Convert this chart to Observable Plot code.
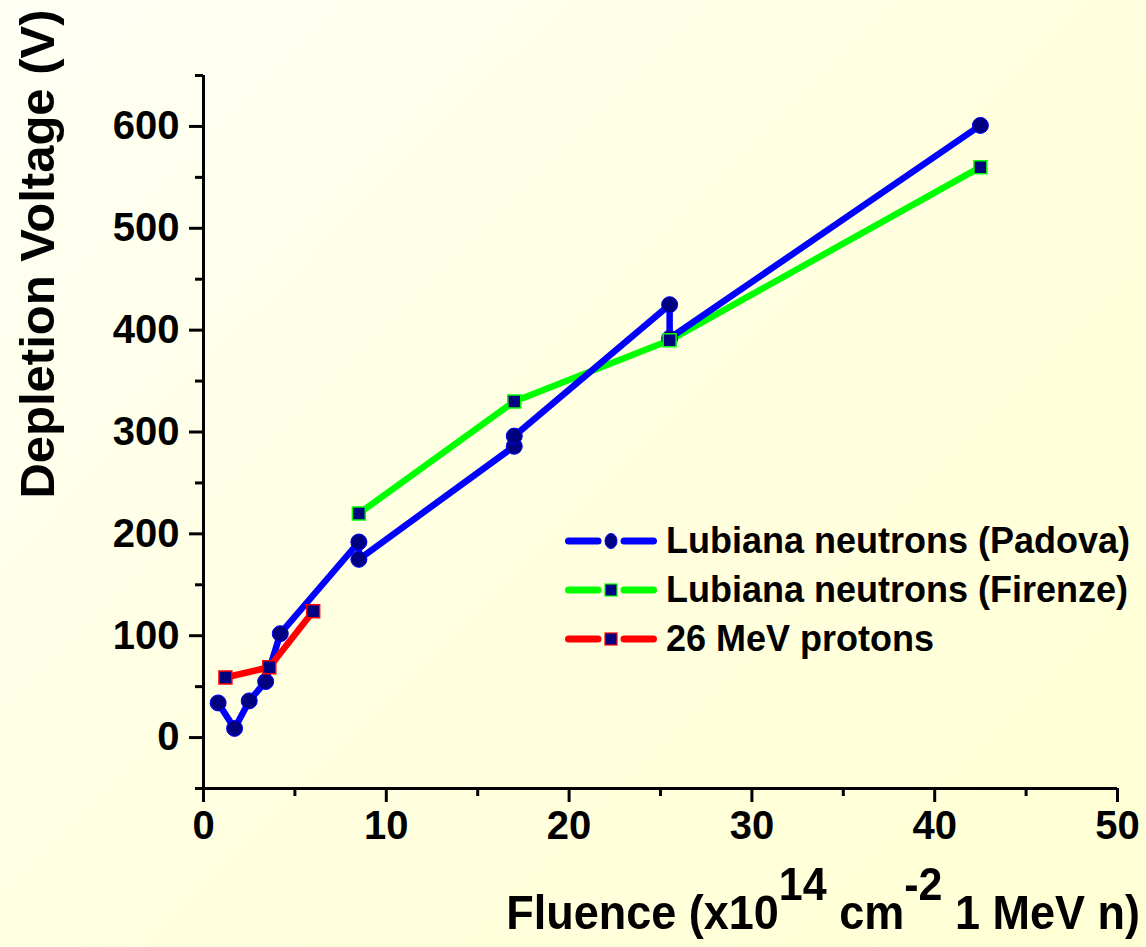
<!DOCTYPE html>
<html>
<head>
<meta charset="utf-8">
<script src="https://cdn.jsdelivr.net/npm/d3@7"></script>
<script src="https://cdn.jsdelivr.net/npm/@observablehq/plot@0.6"></script>
<style>
  html, body { margin: 0; padding: 0; }
  body {
    width: 1146px; height: 947px; overflow: hidden; position: relative;
    background: linear-gradient(135deg, #fffff6 0%, #ffffe2 45%, #ffffd4 100%);
    font-family: "Liberation Sans", Arial, sans-serif;
  }
  #chart { position: absolute; left: 0; top: 0; }
  #chart svg text { font-weight: bold; }
  .ylabel {
    position: absolute; left: 37px; top: 254px;
    transform: translate(-50%, -50%) rotate(-90deg);
    font-size: 49px; font-weight: bold; white-space: nowrap; color: #000;
  }
  .xlabel {
    position: absolute; right: 6px; top: 891px;
    font-size: 45px; font-weight: bold; white-space: nowrap; color: #000; line-height: 1;
    transform: scaleY(1.06); transform-origin: right bottom;
  }
  .xlabel sup { font-size: 43px; position: relative; top: -4px; vertical-align: 0.55em; line-height: 0; }
  .legend { position: absolute; left: 565px; top: 516px; }
  .legend .row { display: flex; align-items: center; height: 49px; }
  .legend .txt { font-size: 36px; font-weight: bold; color: #000; margin-left: 9px; white-space: nowrap; }
</style>
</head>
<body>
<div id="chart"></div>
<div class="ylabel">Depletion Voltage (V)</div>
<div class="xlabel">Fluence (x10<sup>14</sup> cm<sup>-2</sup> 1 MeV n)</div>
<div class="legend" id="legend"></div>
<script>
// ---- data ----
const padovaX = [0.8, 1.7, 2.5, 3.4, 4.2, 8.5, 8.5, 17, 17, 25.5, 25.5, 42.5];
const padovaY = [34, 9, 36, 55, 102, 192, 175, 286, 296, 425, 392, 601];
const firenzeX = [8.5, 17, 25.5, 42.5];
const firenzeY = [220, 330, 390, 560];
const protonX = [1.2, 3.6, 6.0];
const protonY = [59, 69, 124];

const seriesNames = ["Lubiana neutrons (Padova)", "Lubiana neutrons (Firenze)", "26 MeV protons"];
const seriesColors = ["#0000ff", "#00ff00", "#ff0000"];
const seriesSymbols = ["circle", "square", "square"];

const xMajorTicks = [0, 10, 20, 30, 40, 50];
const xMinorTicks = [5, 15, 25, 35, 45];
const yMajorTicks = [0, 100, 200, 300, 400, 500, 600];
const yMinorTicks = [-50, 50, 150, 250, 350, 450, 550, 650];

const toRows = (xs, ys) => xs.map((x, i) => ({x, y: ys[i]}));
const padova = toRows(padovaX, padovaY);
const firenze = toRows(firenzeX, firenzeY);
const protons = toRows(protonX, protonY);

const lineOpts = (c) => ({x: "x", y: "y", stroke: c, strokeWidth: 6.5, strokeLinecap: "round", strokeLinejoin: "round"});

const chart = Plot.plot({
  width: 1146,
  height: 947,
  marginLeft: 203,
  marginRight: 29,
  marginTop: 75,
  marginBottom: 159,
  x: {domain: [0, 50]},
  y: {domain: [-50, 650]},
  style: {background: "transparent", fontFamily: "'Liberation Sans', Arial, sans-serif", fontSize: "40px", color: "#000", overflow: "visible"},
  marks: [
    Plot.axisX(xMajorTicks, {tickSize: 14, tickPadding: 8, strokeWidth: 3, label: null, fontSize: 40, tickFormat: d3.format("d")}),
    Plot.axisX(xMinorTicks, {tickSize: 8, strokeWidth: 3, label: null, tickFormat: () => ""}),
    Plot.axisY(yMajorTicks, {tickSize: 14, tickPadding: 10, strokeWidth: 3, label: null, fontSize: 40, tickFormat: d3.format("d")}),
    Plot.axisY(yMinorTicks, {tickSize: 8, strokeWidth: 3, label: null, tickFormat: () => ""}),
    Plot.ruleX([0], {stroke: "#000", strokeWidth: 3}),
    Plot.ruleY([-50], {stroke: "#000", strokeWidth: 3}),
    Plot.line(firenze, lineOpts(seriesColors[1])),
    Plot.line(padova, lineOpts(seriesColors[0])),
    Plot.line(protons, lineOpts(seriesColors[2])),
    Plot.dot(padova, {x: "x", y: "y", symbol: "circle", r: 8, fill: "#000080", stroke: seriesColors[0], strokeWidth: 1}),
    Plot.dot(firenze, {x: "x", y: "y", symbol: "square", r: 7.3, fill: "#000080", stroke: seriesColors[1], strokeWidth: 1.5}),
    Plot.dot(protons, {x: "x", y: "y", symbol: "square", r: 7.3, fill: "#000080", stroke: seriesColors[2], strokeWidth: 1.5})
  ]
});
document.getElementById("chart").appendChild(chart);

// ---- legend ----
const legend = document.getElementById("legend");
seriesNames.forEach((name, i) => {
  const c = seriesColors[i];
  const sym = seriesSymbols[i] === "circle"
    ? `<ellipse cx="46" cy="12" rx="6" ry="7.5" fill="#000080" stroke="${c}" stroke-width="1"/>`
    : `<rect x="40" y="6" width="12" height="12" fill="#000080" stroke="${c}" stroke-width="1.2"/>`;
  const row = document.createElement("div");
  row.className = "row";
  row.innerHTML = `<svg width="92" height="24" style="display:block">
      <line x1="3.5" y1="12" x2="33" y2="12" stroke="${c}" stroke-width="7" stroke-linecap="round"/>
      <line x1="59" y1="12" x2="88.5" y2="12" stroke="${c}" stroke-width="7" stroke-linecap="round"/>
      ${sym}
    </svg><span class="txt">${name}</span>`;
  legend.appendChild(row);
});
</script>
</body>
</html>
